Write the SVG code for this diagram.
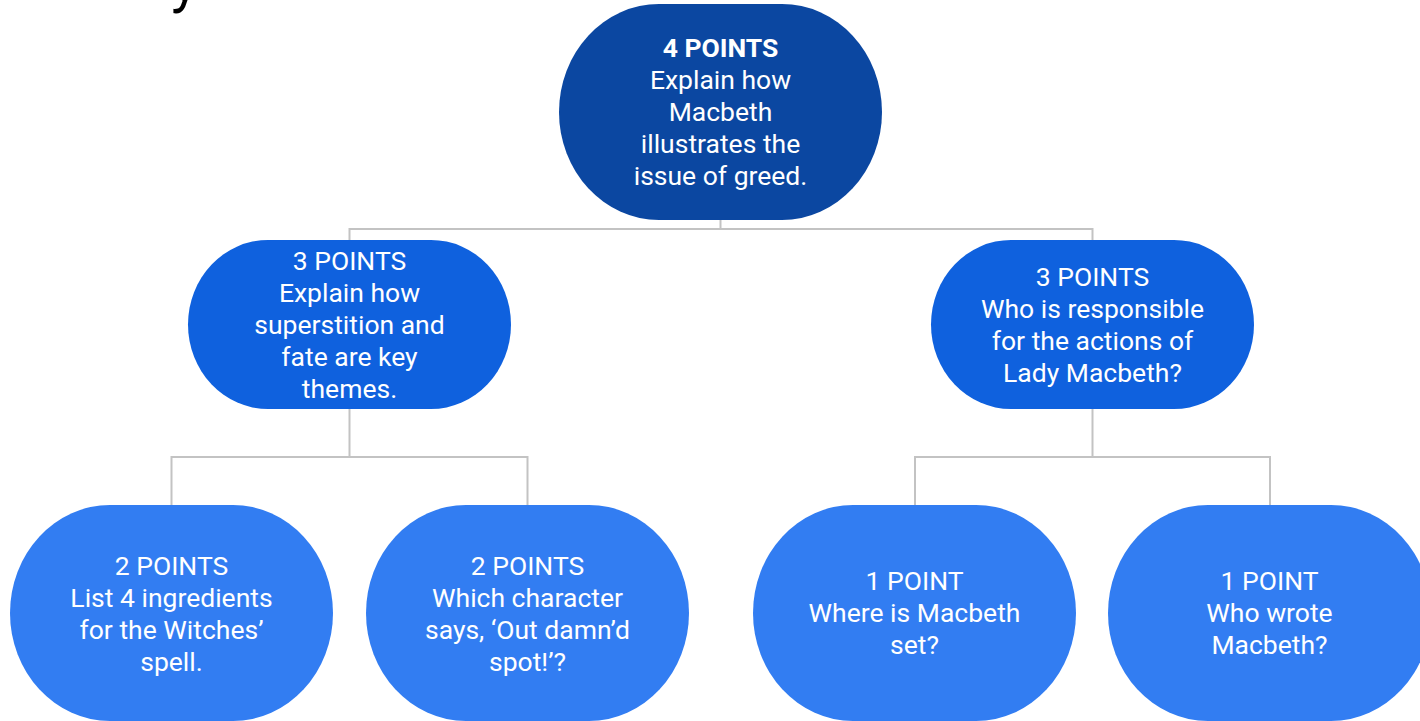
<svg xmlns="http://www.w3.org/2000/svg" width="1420" height="721" viewBox="0 0 1420 721">
<style>
.t{font-family:Roboto,"Liberation Sans",sans-serif;font-size:26.5px;fill:#ffffff;text-anchor:middle}
.b{font-weight:bold}
.c{fill:none;stroke:#c3c3c3;stroke-width:2}
.n0{fill:#0b47a1}
.n1{fill:#0f61de}
.n2{fill:#327df2}
</style>
<rect width="1420" height="721" fill="#ffffff"/>
<text x="171" y="1" font-family="Roboto,'Liberation Sans',sans-serif" font-size="58" fill="#000000">y</text>
<g id="connectors">
<path class="c" d="M720.5 220V229M349.5 240V229H1092.5V240"/>
<path class="c" d="M349.5 409V457M171.5 505V457H527.5V505"/>
<path class="c" d="M1092.5 409V457M915 505V457H1270V505"/>
</g>
<g id="n-top">
<rect class="n0" x="559" y="4" width="323" height="216" rx="100" ry="108"/>
<text class="t" x="720.5"><tspan class="b" x="720.5" y="57">4 POINTS</tspan><tspan x="720.5" y="89">Explain how</tspan><tspan x="720.5" y="121">Macbeth</tspan><tspan x="720.5" y="153">illustrates the</tspan><tspan x="720.5" y="185">issue of greed.</tspan></text>
</g>
<g id="n-superstition">
<rect class="n1" x="188" y="240" width="323" height="169" rx="80" ry="84.5"/>
<text class="t"><tspan x="349.5" y="270">3 POINTS</tspan><tspan x="349.5" y="302">Explain how</tspan><tspan x="349.5" y="334">superstition and</tspan><tspan x="349.5" y="366">fate are key</tspan><tspan x="349.5" y="398">themes.</tspan></text>
</g>
<g id="n-responsible">
<rect class="n1" x="931" y="240" width="323" height="169" rx="80" ry="84.5"/>
<text class="t"><tspan x="1092.5" y="286">3 POINTS</tspan><tspan x="1092.5" y="318">Who is responsible</tspan><tspan x="1092.5" y="350">for the actions of</tspan><tspan x="1092.5" y="382">Lady Macbeth?</tspan></text>
</g>
<g id="n-ingredients">
<rect class="n2" x="10" y="505" width="323" height="216" rx="100" ry="108"/>
<text class="t"><tspan x="171.5" y="575">2 POINTS</tspan><tspan x="171.5" y="607">List 4 ingredients</tspan><tspan x="171.5" y="639">for the Witches’</tspan><tspan x="171.5" y="671">spell.</tspan></text>
</g>
<g id="n-character">
<rect class="n2" x="366" y="505" width="323" height="216" rx="100" ry="108"/>
<text class="t"><tspan x="527.5" y="575">2 POINTS</tspan><tspan x="527.5" y="607">Which character</tspan><tspan x="527.5" y="639">says, ‘Out damn’d</tspan><tspan x="527.5" y="671">spot!’?</tspan></text>
</g>
<g id="n-set">
<rect class="n2" x="753" y="505" width="323" height="216" rx="100" ry="108"/>
<text class="t"><tspan x="914.5" y="590">1 POINT</tspan><tspan x="914.5" y="622">Where is Macbeth</tspan><tspan x="914.5" y="654">set?</tspan></text>
</g>
<g id="n-wrote">
<rect class="n2" x="1108" y="505" width="323" height="216" rx="100" ry="108"/>
<text class="t"><tspan x="1269.5" y="590">1 POINT</tspan><tspan x="1269.5" y="622">Who wrote</tspan><tspan x="1269.5" y="654">Macbeth?</tspan></text>
</g>
</svg>
